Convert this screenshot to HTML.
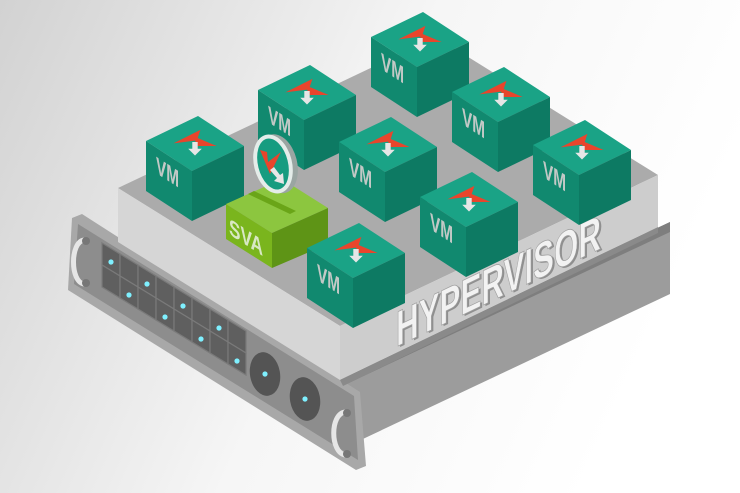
<!DOCTYPE html>
<html><head><meta charset="utf-8"><style>html,body{margin:0;padding:0;width:740px;height:493px;overflow:hidden;background:#fff}</style></head>
<body>
<svg width="740" height="493" viewBox="0 0 740 493" xmlns="http://www.w3.org/2000/svg" font-family="Liberation Sans, sans-serif">
<defs>
<linearGradient id="bg" x1="0" y1="0" x2="1" y2="0.3">
<stop offset="0" stop-color="#d2d2d2"/><stop offset="0.55" stop-color="#f6f6f6"/><stop offset="1" stop-color="#ffffff"/>
</linearGradient>
</defs>
<rect width="740" height="493" fill="url(#bg)"/>

<polygon points="336,378 670,222 670,294 348,446" fill="#9c9c9c"/>
<polygon points="336,378 670,222 670,232 338,388" fill="#7e7e7e"/>
<polygon points="72,218 82,214 360,392 366,466 356,470 68,290" fill="#a8a8a8"/>
<polygon points="78,224 354,396 358,460 74,284" fill="#8d8d8d"/>
<polygon points="118,188 436,37 658,175 340,326" fill="#ababab"/>
<polygon points="118,188 340,326 340,380 118,242" fill="#d6d6d6"/>
<polygon points="340,326 658,175 658,227 340,380" fill="#cdcdcd"/>
<polygon points="340,380 658,227 658,233 343,386" fill="#8a8a8a"/>

<g stroke="#7a7a7a" stroke-width="1.2" fill="#5f5f5f">
<polygon points="102,243 120,254 120,276 102,265"/><polygon points="102,265 120,276 120,298 102,287"/>
<polygon points="120,254 138,265 138,287 120,276"/><polygon points="120,276 138,287 138,309 120,298"/>
<polygon points="138,265 156,276 156,298 138,287"/><polygon points="138,287 156,298 156,320 138,309"/>
<polygon points="156,276 174,287 174,309 156,298"/><polygon points="156,298 174,309 174,331 156,320"/>
<polygon points="174,287 192,298 192,320 174,309"/><polygon points="174,309 192,320 192,342 174,331"/>
<polygon points="192,298 210,309 210,331 192,320"/><polygon points="192,320 210,331 210,353 192,342"/>
<polygon points="210,309 228,320 228,342 210,331"/><polygon points="210,331 228,342 228,364 210,353"/>
<polygon points="228,320 246,331 246,353 228,342"/><polygon points="228,342 246,353 246,375 228,364"/>
</g>
<g fill="#7ff0ff">
<circle cx="111" cy="262" r="2.6"/><circle cx="129" cy="295" r="2.6"/><circle cx="147" cy="284" r="2.6"/><circle cx="165" cy="317" r="2.6"/>
<circle cx="183" cy="306" r="2.6"/><circle cx="201" cy="339" r="2.6"/><circle cx="219" cy="328" r="2.6"/><circle cx="237" cy="361" r="2.6"/>
</g>
<ellipse cx="265" cy="374" rx="15" ry="22" fill="#545454" transform="rotate(-10 265 374)"/>
<ellipse cx="305" cy="399" rx="15" ry="22" fill="#545454" transform="rotate(-10 305 399)"/>
<circle cx="265" cy="374" r="2.6" fill="#7ff0ff"/><circle cx="305" cy="399" r="2.6" fill="#7ff0ff"/>
<path d="M84,240 C70,242 70,282 84,284" fill="none" stroke="#e6e6e6" stroke-width="5"/>
<circle cx="86" cy="241" r="4" fill="#777"/><circle cx="86" cy="283" r="4" fill="#777"/>
<path d="M345,412 C330,414 330,452 345,455" fill="none" stroke="#e6e6e6" stroke-width="5"/>
<circle cx="347" cy="413" r="4" fill="#777"/><circle cx="347" cy="454" r="4" fill="#777"/>

<g transform="matrix(1,-0.48,0,1,396,347)">
<text x="2" y="2" font-size="50" font-weight="bold" fill="#8f8f8f" textLength="205" lengthAdjust="spacingAndGlyphs">HYPERVISOR</text>
<text x="0" y="0" font-size="50" font-weight="bold" fill="#f2f2f2" stroke="#a0a0a0" stroke-width="0.8" textLength="205" lengthAdjust="spacingAndGlyphs">HYPERVISOR</text>
</g>

<g transform="translate(371,37)">
<polygon points="0,0 52,-25 98,5 46,30" fill="#1aa386"/><polygon points="0,0 46,30 46,80 0,50" fill="#11896f"/><polygon points="46,30 98,5 98,55 46,80" fill="#0d7a63"/>
<g transform="translate(49,1) scale(1.35)"><polygon points="-16,1 4,-9 2,-3 16,3 2,3 0,-1" fill="#e8452c"/><polygon points="-2,0 2,0 2,5 5,5 0,10 -5,5 -2,5" fill="#e6e6e6"/></g>
<text transform="matrix(1,0.652,0,1,10,32)" font-size="24" font-weight="bold" fill="#c2c9c6" textLength="23" lengthAdjust="spacingAndGlyphs">VM</text></g>
<g transform="translate(258,90)">
<polygon points="0,0 52,-25 98,5 46,30" fill="#1aa386"/><polygon points="0,0 46,30 46,80 0,50" fill="#11896f"/><polygon points="46,30 98,5 98,55 46,80" fill="#0d7a63"/>
<g transform="translate(49,1) scale(1.35)"><polygon points="-16,1 4,-9 2,-3 16,3 2,3 0,-1" fill="#e8452c"/><polygon points="-2,0 2,0 2,5 5,5 0,10 -5,5 -2,5" fill="#e6e6e6"/></g>
<text transform="matrix(1,0.652,0,1,10,32)" font-size="24" font-weight="bold" fill="#c2c9c6" textLength="23" lengthAdjust="spacingAndGlyphs">VM</text></g>
<g transform="translate(452,92)">
<polygon points="0,0 52,-25 98,5 46,30" fill="#1aa386"/><polygon points="0,0 46,30 46,80 0,50" fill="#11896f"/><polygon points="46,30 98,5 98,55 46,80" fill="#0d7a63"/>
<g transform="translate(49,1) scale(1.35)"><polygon points="-16,1 4,-9 2,-3 16,3 2,3 0,-1" fill="#e8452c"/><polygon points="-2,0 2,0 2,5 5,5 0,10 -5,5 -2,5" fill="#e6e6e6"/></g>
<text transform="matrix(1,0.652,0,1,10,32)" font-size="24" font-weight="bold" fill="#c2c9c6" textLength="23" lengthAdjust="spacingAndGlyphs">VM</text></g>
<g transform="translate(146,141)">
<polygon points="0,0 52,-25 98,5 46,30" fill="#1aa386"/><polygon points="0,0 46,30 46,80 0,50" fill="#11896f"/><polygon points="46,30 98,5 98,55 46,80" fill="#0d7a63"/>
<g transform="translate(49,1) scale(1.35)"><polygon points="-16,1 4,-9 2,-3 16,3 2,3 0,-1" fill="#e8452c"/><polygon points="-2,0 2,0 2,5 5,5 0,10 -5,5 -2,5" fill="#e6e6e6"/></g>
<text transform="matrix(1,0.652,0,1,10,32)" font-size="24" font-weight="bold" fill="#c2c9c6" textLength="23" lengthAdjust="spacingAndGlyphs">VM</text></g>
<g transform="translate(339,142)">
<polygon points="0,0 52,-25 98,5 46,30" fill="#1aa386"/><polygon points="0,0 46,30 46,80 0,50" fill="#11896f"/><polygon points="46,30 98,5 98,55 46,80" fill="#0d7a63"/>
<g transform="translate(49,1) scale(1.35)"><polygon points="-16,1 4,-9 2,-3 16,3 2,3 0,-1" fill="#e8452c"/><polygon points="-2,0 2,0 2,5 5,5 0,10 -5,5 -2,5" fill="#e6e6e6"/></g>
<text transform="matrix(1,0.652,0,1,10,32)" font-size="24" font-weight="bold" fill="#c2c9c6" textLength="23" lengthAdjust="spacingAndGlyphs">VM</text></g>
<g transform="translate(533,145)">
<polygon points="0,0 52,-25 98,5 46,30" fill="#1aa386"/><polygon points="0,0 46,30 46,80 0,50" fill="#11896f"/><polygon points="46,30 98,5 98,55 46,80" fill="#0d7a63"/>
<g transform="translate(49,1) scale(1.35)"><polygon points="-16,1 4,-9 2,-3 16,3 2,3 0,-1" fill="#e8452c"/><polygon points="-2,0 2,0 2,5 5,5 0,10 -5,5 -2,5" fill="#e6e6e6"/></g>
<text transform="matrix(1,0.652,0,1,10,32)" font-size="24" font-weight="bold" fill="#c2c9c6" textLength="23" lengthAdjust="spacingAndGlyphs">VM</text></g>
<g transform="translate(420,197)">
<polygon points="0,0 52,-25 98,5 46,30" fill="#1aa386"/><polygon points="0,0 46,30 46,80 0,50" fill="#11896f"/><polygon points="46,30 98,5 98,55 46,80" fill="#0d7a63"/>
<g transform="translate(49,1) scale(1.35)"><polygon points="-16,1 4,-9 2,-3 16,3 2,3 0,-1" fill="#e8452c"/><polygon points="-2,0 2,0 2,5 5,5 0,10 -5,5 -2,5" fill="#e6e6e6"/></g>
<text transform="matrix(1,0.652,0,1,10,32)" font-size="24" font-weight="bold" fill="#c2c9c6" textLength="23" lengthAdjust="spacingAndGlyphs">VM</text></g>

<polygon points="226,204 282,179 328,208 272,233" fill="#8cc63f"/>
<polygon points="226,204 272,233 272,268 226,239" fill="#7ab51d"/>
<polygon points="272,233 328,208 328,244 272,268" fill="#5e9416"/>
<polygon points="248,194 290,214 296,211 254,191" fill="#6aa518"/>
<text transform="matrix(1,0.652,0,1,229,234)" font-size="23" font-weight="bold" fill="#d8e8c4" textLength="34" lengthAdjust="spacingAndGlyphs">SVA</text>

<g transform="translate(307,248)">
<polygon points="0,0 52,-25 98,5 46,30" fill="#1aa386"/><polygon points="0,0 46,30 46,80 0,50" fill="#11896f"/><polygon points="46,30 98,5 98,55 46,80" fill="#0d7a63"/>
<g transform="translate(49,1) scale(1.35)"><polygon points="-16,1 4,-9 2,-3 16,3 2,3 0,-1" fill="#e8452c"/><polygon points="-2,0 2,0 2,5 5,5 0,10 -5,5 -2,5" fill="#e6e6e6"/></g>
<text transform="matrix(1,0.652,0,1,10,32)" font-size="24" font-weight="bold" fill="#c2c9c6" textLength="23" lengthAdjust="spacingAndGlyphs">VM</text></g>

<!-- shield -->
<g transform="rotate(-14 273 164)">
<ellipse cx="278" cy="165" rx="19" ry="30" fill="#9aa5a2"/>
<ellipse cx="273" cy="164" rx="19" ry="30" fill="#e4ece9"/>
<ellipse cx="273" cy="164" rx="15" ry="26" fill="#169c80"/>
</g>
<polygon points="260,150 267,152 268,162 281,152 270,174" fill="#e8452c"/>
<polygon points="270,170 274,167 280,175 283,173 284,184 274,181 277,178" fill="#e6e6e6"/>
</svg>
</body></html>
